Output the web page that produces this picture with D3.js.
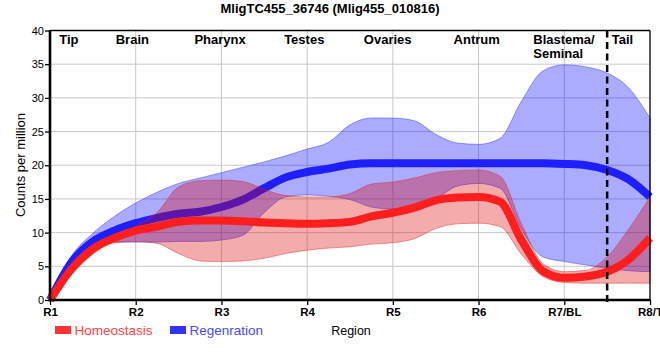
<!DOCTYPE html>
<html><head><meta charset="utf-8">
<script src="https://cdn.jsdelivr.net/npm/d3@7"></script>
<style>body{margin:0;background:#fff} svg{display:block;font-family:"Liberation Sans",Arial,Helvetica,sans-serif}</style>
</head><body><svg id="c" width="660" height="360"></svg>
<script>
const title = "MligTC455_36746 (Mlig455_010816)";
const categories = ["R1","R2","R3","R4","R5","R6","R7/BL","R8/T"];
const regionNames = ["Tip","Brain","Pharynx","Testes","Ovaries","Antrum","Blastema/\nSeminal","Tail"];
const yTicks = [0,5,10,15,20,25,30,35,40];
const seriesNames = ["Homeostasis","Regenration"];
// sample positions along the region axis (R1 = 0 ... R8/T = 7)
const regionPos = [0,0.25,0.5,0.75,1,1.25,1.5,1.75,2,2.25,2.5,2.75,3,3.25,3.5,3.75,4,4.25,4.5,4.75,5,5.25,5.5,5.75,6,6.25,6.5,6.75,7];
const homeoMean  = [0,4.6,7.6,9.2,10.3,10.9,11.6,11.8,11.8,11.7,11.5,11.4,11.3,11.4,11.6,12.4,12.95,13.7,14.8,15.2,15.3,14.6,8.9,4.3,3.3,3.5,4.2,6.0,9.2];
const homeoUpper = [0,5.0,8.0,9.6,11.0,13.0,16.8,17.7,17.8,17.6,16.4,15.5,15.3,15.3,15.8,17.2,17.5,18.1,18.9,19.2,19.3,18.4,11.3,5.4,4.2,4.4,6.4,10.5,15.3];
const homeoLower = [0,3.8,6.8,8.5,8.65,8.4,6.9,5.8,5.7,5.8,6.2,6.9,7.4,7.7,7.9,8.3,8.5,9.1,10.6,11.3,11.4,10.9,6.8,3.5,2.6,2.5,2.5,2.5,2.5];
const regenMean  = [0,5.6,8.7,10.3,11.4,12.2,12.8,13.1,13.8,14.9,16.6,18.2,19.0,19.5,20.1,20.3,20.3,20.3,20.3,20.3,20.3,20.3,20.3,20.3,20.2,20.0,19.3,17.9,15.3];
const regenUpper = [0,6.5,9.9,12.4,14.4,16.0,17.3,18.1,18.9,19.7,20.5,21.4,22.4,23.4,26.0,27.0,27.0,26.6,24.6,23.3,23.1,24.0,29.5,34.0,34.9,34.6,33.7,31.5,27.0];
const regenLower = [0,4.6,7.4,8.6,8.6,8.6,8.7,8.7,8.9,9.6,13.0,15.3,15.6,15.4,14.9,13.8,13.5,13.9,15.0,16.9,17.3,16.6,10.5,6.4,5.7,5.2,4.7,4.35,4.2];
const dividerPos = 6.5;

const svg = d3.select("#c");
const L = 50, R = 650, T = 30.5, B = 300;
const x = d3.scaleLinear().domain([0,7]).range([L,R]);
const y = d3.scaleLinear().domain([0,40]).range([B,T]);

// grid
const grid = svg.append("g").attr("stroke","#c8c8c8").attr("stroke-width",1);
d3.range(1,7).forEach(i=>grid.append("line").attr("x1",x(i)).attr("x2",x(i)).attr("y1",T).attr("y2",B));
yTicks.slice(1,-1).forEach(v=>grid.append("line").attr("x1",L).attr("x2",R).attr("y1",y(v)).attr("y2",y(v)));

const mk = (m,u,l)=>regionPos.map((p,i)=>({p,m:m[i],u:u[i],l:l[i]}));
const homeo = mk(homeoMean,homeoUpper,homeoLower);
const regen = mk(regenMean,regenUpper,regenLower);
const curve = d3.curveMonotoneX;
const area = d3.area().x(d=>x(d.p)).y0(d=>y(d.l)).y1(d=>y(d.u)).curve(curve);
const line = d3.line().x(d=>x(d.p)).y(d=>y(d.m)).curve(curve);

svg.append("path").attr("d",area(regen)).attr("fill","rgba(0,0,255,0.33)").attr("stroke","rgba(60,60,255,0.5)").attr("stroke-width",1);
svg.append("path").attr("d",line(regen)).attr("fill","none").attr("stroke","#1e1eff").attr("stroke-width",8);
svg.append("path").attr("d",area(homeo)).attr("fill","rgba(220,0,0,0.33)").attr("stroke","rgba(220,40,40,0.45)").attr("stroke-width",1);
svg.append("path").attr("d",line(homeo)).attr("fill","none").attr("stroke","#ff1e1e").attr("stroke-width",8);

// axes
const ya = svg.append("g").attr("transform",`translate(${L},0)`)
  .call(d3.axisLeft(y).tickValues(yTicks).tickSize(5).tickPadding(1));
ya.select(".domain").remove();
ya.selectAll("line").attr("stroke","#000").attr("stroke-width",1.3);
ya.selectAll("text").attr("font-size","11px").attr("fill","#000").attr("font-family",null);
const xa = svg.append("g").attr("transform",`translate(0,${B})`)
  .call(d3.axisBottom(x).tickValues(d3.range(0,8)).tickFormat(i=>categories[i]).tickSize(5).tickPadding(3));
xa.select(".domain").remove();
xa.selectAll("line").attr("stroke","#000").attr("stroke-width",1.3);
xa.selectAll("text").attr("font-size","11.5px").attr("font-weight","bold").attr("fill","#000").attr("font-family",null);

// frame
svg.append("line").attr("x1",L).attr("x2",R).attr("y1",T).attr("y2",T).attr("stroke","#000").attr("stroke-width",1.3);
svg.append("line").attr("x1",R).attr("x2",R).attr("y1",T).attr("y2",B).attr("stroke","#000").attr("stroke-width",1.3);
svg.append("line").attr("x1",L).attr("x2",L).attr("y1",T-0.5).attr("y2",B+1.3).attr("stroke","#000").attr("stroke-width",2.6);
svg.append("line").attr("x1",L-1.3).attr("x2",R+0.7).attr("y1",B).attr("y2",B).attr("stroke","#000").attr("stroke-width",2.6);

// divider
svg.append("line").attr("x1",x(dividerPos)).attr("x2",x(dividerPos)).attr("y1",T).attr("y2",B+3)
  .attr("stroke","#000").attr("stroke-width",2.5).attr("stroke-dasharray","7,4.5");

// title
svg.append("text").attr("x",330).attr("y",13).attr("text-anchor","middle").attr("font-size","13px").attr("font-weight","bold").text(title);

// region names
const nameX = [x(0)+9.3, x(1)-20, x(2)-27, x(3)-23, x(4)-29, x(5)-25, x(6)-31, x(6.5)+4.6];
regionNames.forEach((n,i)=>{
  const parts = n.split("\n");
  const t = svg.append("text").attr("x",nameX[i]).attr("y",44).attr("font-size","13px").attr("font-weight","bold");
  parts.forEach((p,j)=>t.append("tspan").attr("x",nameX[i]).attr("dy",j?14.3:0).text(p));
});

// axis titles
svg.append("text").attr("transform","translate(25,165) rotate(-90)").attr("text-anchor","middle").attr("font-size","13px").text("Counts per million");
svg.append("text").attr("x",351).attr("y",335).attr("text-anchor","middle").attr("font-size","12.5px").text("Region");

// legend
const legCol = [["#ff3333","#ff4545"],["#3333ff","#4a4aff"]];
const legX = [55,170];
seriesNames.forEach((s,i)=>{
  svg.append("rect").attr("x",legX[i]).attr("y",326).attr("width",16).attr("height",8).attr("fill",legCol[i][0]);
  svg.append("text").attr("x",legX[i]+19.5).attr("y",335).attr("font-size","13.5px").attr("fill",legCol[i][1]).text(s);
});
</script></body></html>
